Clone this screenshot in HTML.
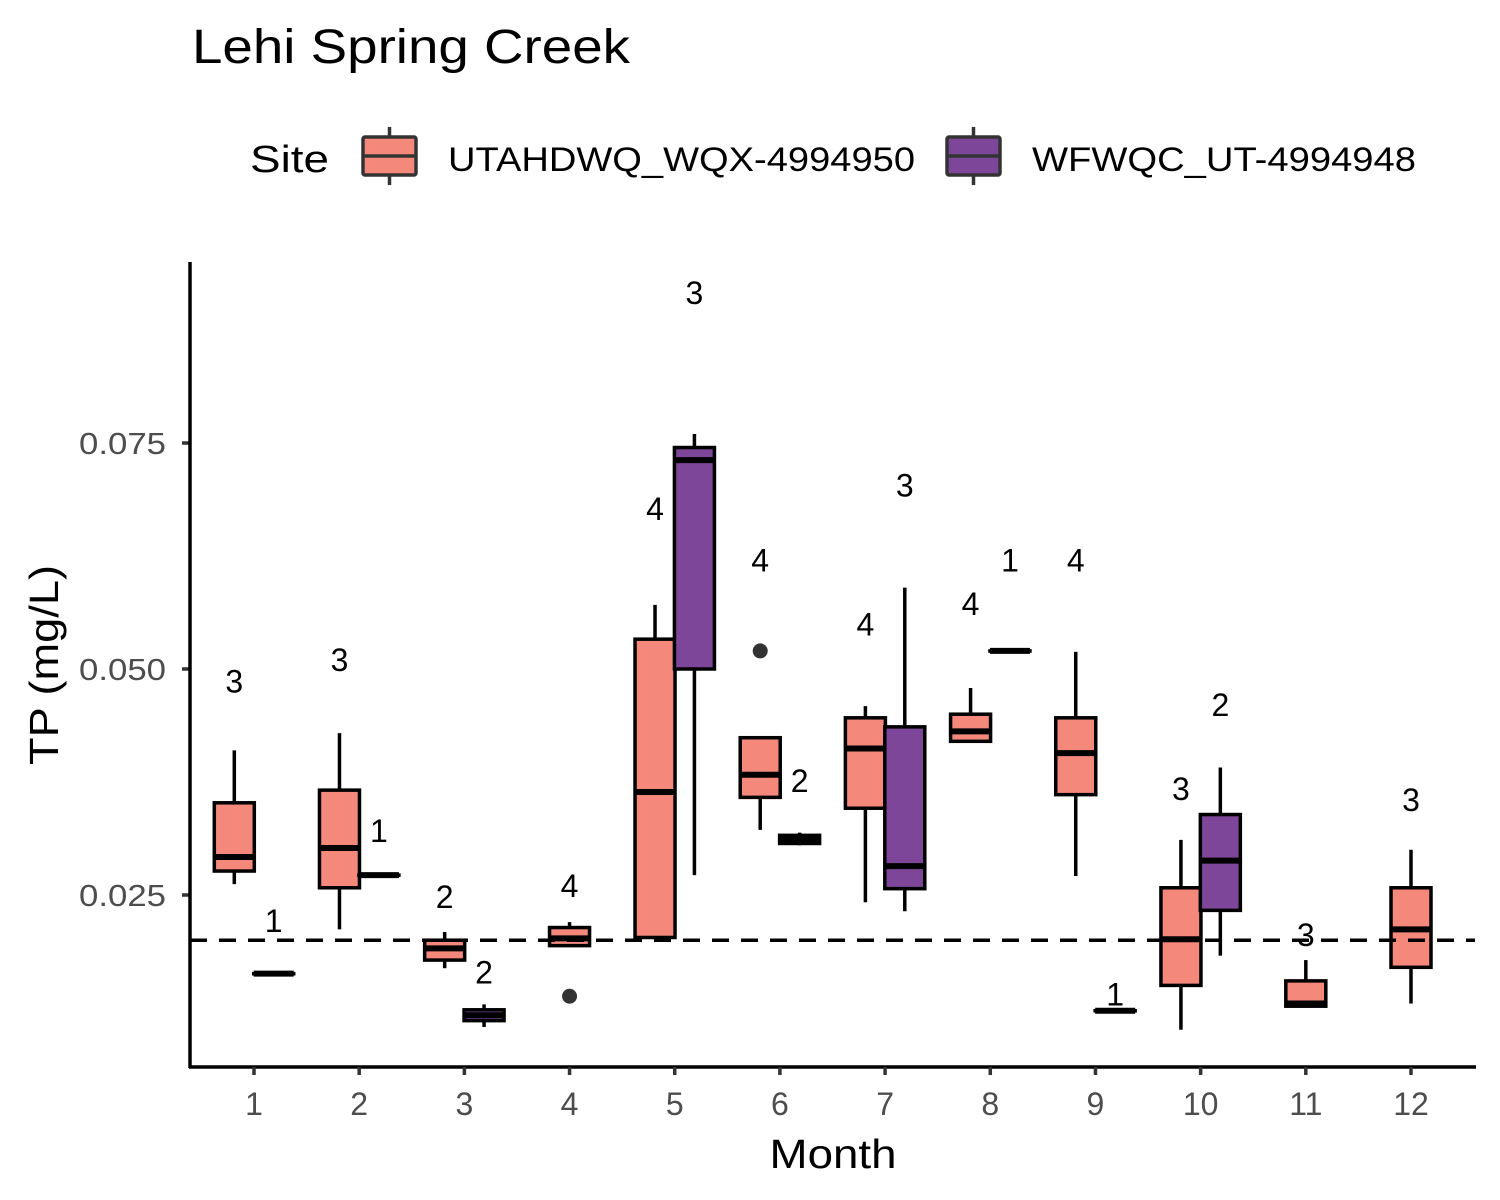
<!DOCTYPE html>
<html><head><meta charset="utf-8"><style>
body{margin:0;background:#fff;}
svg{display:block;font-family:"Liberation Sans",Arial,sans-serif;}
</style></head><body>
<svg id="chart" width="1500" height="1200" xmlns="http://www.w3.org/2000/svg">
<text x="192" y="63" font-size="48" fill="#000" textLength="438" lengthAdjust="spacingAndGlyphs">Lehi Spring Creek</text>
<g>
<text x="250" y="172" font-size="38" fill="#000" textLength="79" lengthAdjust="spacingAndGlyphs">Site</text>
<g>
<line x1="389.5" y1="127" x2="389.5" y2="185" stroke="#333" stroke-width="3.5"/>
<rect x="363" y="137" width="53" height="38" rx="2" fill="#F4897B" stroke="#333" stroke-width="3.5"/>
<line x1="363" y1="156" x2="416" y2="156" stroke="#333" stroke-width="3.5"/>
<text x="448" y="171" font-size="34" fill="#000" textLength="467" lengthAdjust="spacingAndGlyphs">UTAHDWQ_WQX-4994950</text>
</g>
<g>
<line x1="973.5" y1="127" x2="973.5" y2="185" stroke="#333" stroke-width="3.5"/>
<rect x="947" y="137" width="53" height="38" rx="2" fill="#7E4698" stroke="#333" stroke-width="3.5"/>
<line x1="947" y1="156" x2="1000" y2="156" stroke="#333" stroke-width="3.5"/>
<text x="1032" y="171" font-size="34" fill="#000" textLength="384" lengthAdjust="spacingAndGlyphs">WFWQC_UT-4994948</text>
</g>
</g>
<g id="plot"></g>
<line x1="190" y1="262" x2="190" y2="1068" stroke="#000" stroke-width="3.5"/>
<line x1="189" y1="1067" x2="1476" y2="1067" stroke="#000" stroke-width="3.5"/>
<text x="58" y="665" font-size="41" fill="#000" transform="rotate(-90 58 665)" text-anchor="middle" textLength="200" lengthAdjust="spacingAndGlyphs">TP (mg/L)</text>
<text x="833" y="1168" font-size="41" fill="#000" text-anchor="middle" textLength="127" lengthAdjust="spacingAndGlyphs">Month</text>
</svg>
<script>
const months=[1,2,3,4,5,6,7,8,9,10,11,12];
const yTicks=[0.025,0.050,0.075];
const yTickLabels=["0.025","0.050","0.075"];
const refLine=0.02;
// [month, side, whiskerLow, q1, median, q3, whiskerHigh]
const boxesPink=[
[1,-1,0.0262,0.02765,0.0292,0.0352,0.0410],
[2,-1,0.0212,0.0258,0.0302,0.0366,0.0429],
[3,-1,0.0169,0.0178,0.0191,0.0200,0.0209],
[4,0,0.0194,0.0194,0.0202,0.0214,0.0220],
[5,-1,0.0201,0.0203,0.0364,0.0533,0.0571],
[6,-1,0.0322,0.0358,0.0383,0.0424,0.0424],
[7,-1,0.0242,0.0346,0.0412,0.0446,0.0459],
[8,-1,0.0420,0.0420,0.0431,0.0450,0.0479],
[9,-1,0.0271,0.0361,0.0407,0.0446,0.0519],
[10,-1,0.0101,0.0150,0.0201,0.0258,0.0311],
[11,0,0.0127,0.0127,0.0130,0.0155,0.0178],
[12,0,0.0130,0.0170,0.0212,0.0258,0.0300]
];
const boxesPurple=[
[1,1,0.0163,0.0163,0.0163,0.0163,0.0163],
[2,1,0.0272,0.0272,0.0272,0.0272,0.0272],
[3,1,0.0104,0.0111,0.0117,0.0123,0.0129],
[5,1,0.0272,0.0500,0.0731,0.0745,0.0760],
[6,1,0.0305,0.0307,0.0312,0.0316,0.0319],
[7,1,0.0232,0.0257,0.0282,0.0436,0.0590],
[8,1,0.0520,0.0520,0.0520,0.0520,0.0520],
[9,1,0.0122,0.0122,0.0122,0.0122,0.0122],
[10,1,0.0183,0.0233,0.0288,0.0339,0.0391]
];
const outliers=[[4,0,0.0138],[6,-1,0.0520]];
// [month, side, yValue, text]
const countLabels=[
[1,-1,0.0486,"3"],[1,1,0.0221,"1"],[2,-1,0.0510,"3"],[2,1,0.0321,"1"],
[3,-1,0.0248,"2"],[3,1,0.0164,"2"],[4,0,0.0260,"4"],
[5,-1,0.0677,"4"],[5,1,0.0916,"3"],[6,-1,0.0620,"4"],[6,1,0.0376,"2"],
[7,-1,0.0549,"4"],[7,1,0.0703,"3"],[8,-1,0.0572,"4"],[8,1,0.0620,"1"],
[9,-1,0.0620,"4"],[9,1,0.0140,"1"],[10,-1,0.0367,"3"],[10,1,0.0460,"2"],
[11,0,0.0206,"3"],[12,0,0.0355,"3"]
];
const NS="http://www.w3.org/2000/svg";
const svg=document.getElementById('chart');
const plot=document.getElementById('plot');
function y(v){return 895-(v-0.025)/0.025*226;}
function x(m){return 254+(m-1)*(1411-254)/11;}
function mk(t,a,p){const e=document.createElementNS(NS,t);for(const k in a)e.setAttribute(k,a[k]);(p||plot).appendChild(e);return e;}
yTicks.forEach((v,i)=>{
 const l=mk('line',{x1:182,x2:190,y1:y(v),y2:y(v),stroke:'#333','stroke-width':3.5});
 
 
 const t=mk('text',{x:166,y:y(v)+11,'font-size':31,fill:'#4d4d4d','text-anchor':'end',textLength:87,lengthAdjust:'spacingAndGlyphs'},svg);
 t.textContent=yTickLabels[i];
 
 
});
months.forEach(m=>{
 const l=mk('line',{x1:x(m),x2:x(m),y1:1067,y2:1075,stroke:'#333','stroke-width':3.5},svg);
 
 
 const t=mk('text',{x:x(m),y:1115,'font-size':32,fill:'#4d4d4d','text-anchor':'middle'},svg);
 t.textContent=String(m);
 
 
});
function drawBox(b,fill,name){
 const cx=x(b[0])+b[1]*19.7, hw=20;
 const g=mk('g',{});
 
 
 mk('line',{x1:cx,x2:cx,y1:y(b[6]),y2:y(b[2]),stroke:'#000','stroke-width':3.5},g);
 mk('rect',{x:cx-hw,y:y(b[5]),width:2*hw,height:Math.max(y(b[3])-y(b[5]),0.1),fill:fill,stroke:'#000','stroke-width':3.5},g);
 mk('line',{x1:cx-hw,x2:cx+hw,y1:y(b[4]),y2:y(b[4]),stroke:'#000','stroke-width':6},g);
}
boxesPink.forEach(b=>drawBox(b,'#F4897B','box-utahdwq'));
boxesPurple.forEach(b=>drawBox(b,'#7E4698','box-wfwqc'));
outliers.forEach(o=>{
 const c=mk('circle',{cx:x(o[0])+o[1]*19.7,cy:y(o[2]),r:7.5,fill:'#333'});
 
 
});
const dl=mk('line',{x1:190,x2:1475,y1:y(refLine),y2:y(refLine),stroke:'#000','stroke-width':3.5,'stroke-dasharray':'17,12'});


countLabels.forEach(c=>{
 const t=mk('text',{x:x(c[0])+c[1]*19.7,y:y(c[2])+11,'font-size':32,fill:'#000','text-anchor':'middle'});
 t.textContent=c[3];
 
 
});
</script>
</body></html>
